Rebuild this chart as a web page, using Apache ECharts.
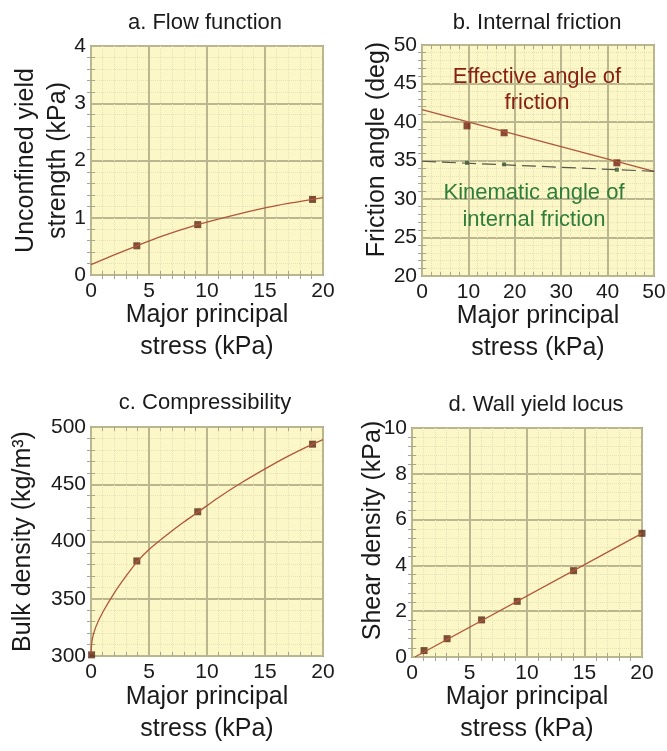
<!DOCTYPE html>
<html>
<head>
<meta charset="utf-8">
<script src="https://cdn.jsdelivr.net/npm/echarts@6.0.0/dist/echarts.min.js"></script>
<style>
  html, body { margin: 0; padding: 0; background: #fff; }
  #chart { width: 667px; height: 751px; }
</style>
</head>
<body>
<div id="chart"></div>
<script>
// a. flow function
const flowX = [3.95, 9.2, 19.1];
const flowY = [0.51, 0.88, 1.32];
const flowCurveX = [0, 2, 3.95, 6, 9.2, 12, 15.2, 17, 19.1, 20];
const flowCurveY = [0.18, 0.35, 0.51, 0.67, 0.88, 1.03, 1.18, 1.25, 1.32, 1.35];

// b. internal friction
const fricX = [9.7, 17.7, 42];
const effY = [39.5, 38.6, 34.7];
const kinY = [34.7, 34.5, 33.8];
const effLineX = [0, 50];
const effLineY = [41.6, 33.6];
const kinLineX = [0, 50];
const kinLineY = [34.9, 33.6];

// c. compressibility
const compX = [0.05, 3.95, 9.2, 19.1];
const compY = [301, 383, 426, 485];
const compCurveX = [0, 0.1, 0.4, 1, 2, 3, 3.95, 5, 6.5, 8, 9.2, 11, 13, 15.2, 17, 19.1, 20];
const compCurveY = [302, 314, 325, 338, 355, 369.5, 382, 393, 405.5, 417, 425.5, 438.5, 451.5, 464.5, 474.5, 485, 489];

// d. wall yield locus
const wallX = [1.05, 3.05, 6.05, 9.15, 14.05, 20];
const wallY = [0.28, 0.8, 1.62, 2.43, 3.77, 5.4];
const wallLineX = [0.25, 20];
const wallLineY = [0, 5.4];

// axis ranges per panel: [xMin, xMax, xStep, yMin, yMax, yStep]
const ranges = [
  [0, 20, 5, 0, 4, 1],
  [0, 50, 10, 20, 50, 5],
  [0, 20, 5, 300, 500, 50],
  [0, 20, 5, 0, 10, 2]
];

const FONT = '"Liberation Sans", Arial, sans-serif';
const pairs = (xs, ys) => xs.map((x, i) => [x, ys[i]]);

function axis(gridIndex, min, max, interval, name, nameGap, isY, shift) {
  return {
    gridIndex: gridIndex,
    type: 'value',
    min: min,
    max: max,
    interval: interval,
    name: name,
    nameLocation: 'middle',
    nameGap: nameGap,
    nameMoveOverlap: false,
    nameTextStyle: { fontFamily: FONT, fontSize: 25, color: '#1a1a1a', lineHeight: 32,
      padding: shift ? [0, 0, 0, shift] : 0 },
    axisLine: { show: false },
    axisTick: { show: false, inside: true },
    minorTick: { show: true, splitNumber: 5, length: 4, lineStyle: { color: '#a8a690', width: 1 } },
    axisLabel: { fontFamily: FONT, fontSize: 21, color: '#1a1a1a', margin: isY ? 5 : 6, showMinLabel: true, showMaxLabel: true },
    splitLine: { show: true, lineStyle: { color: '#bab68f', width: 2 } },
    minorSplitLine: { show: true, lineStyle: { color: '#e6e1b6', width: 1, type: 'dotted' } }
  };
}

// ticks only, on the top and right edges of each frame
function edgeAxis(gridIndex, min, max, interval, position) {
  return {
    gridIndex: gridIndex, type: 'value', position: position,
    min: min, max: max, interval: interval,
    axisLine: { show: false },
    axisTick: { show: false, inside: true },
    minorTick: { show: true, splitNumber: 5, length: 4, lineStyle: { color: '#a8a690', width: 1 } },
    axisLabel: { show: false },
    splitLine: { show: false }
  };
}

function titleAt(text, x, y) {
  return { text: text, left: x, top: y, textAlign: 'center',
    textStyle: { fontFamily: FONT, fontSize: 22, fontWeight: 'normal', color: '#1a1a1a' } };
}

const gridBase = { show: true, backgroundColor: '#fcf7c7', borderColor: '#9e9c86', borderWidth: 2, outerBoundsMode: 'none' };
const lineStyle = { color: '#b0563a', width: 1.3 };
const markStyle = { color: '#5a2612' };
const xName = 'Major principal\nstress (kPa)';

const chart = echarts.init(document.getElementById('chart'));
chart.setOption({
  animation: false,
  backgroundColor: '#ffffff',
  title: [
    titleAt('a. Flow function', 200, 7),
    titleAt('b. Internal friction', 532, 7),
    titleAt('c. Compressibility', 200, 387),
    titleAt('d. Wall yield locus', 531, 389)
  ],
  grid: [
    Object.assign({ left: 91, top: 46, width: 232, height: 229 }, gridBase),
    Object.assign({ left: 422, top: 45, width: 232, height: 231 }, gridBase),
    Object.assign({ left: 91, top: 427, width: 232, height: 229 }, gridBase),
    Object.assign({ left: 412, top: 428, width: 230, height: 229 }, gridBase)
  ],
  xAxis: [
    axis(0, ranges[0][0], ranges[0][1], ranges[0][2], xName, 24, false),
    axis(1, ranges[1][0], ranges[1][1], ranges[1][2], xName, 24, false),
    axis(2, ranges[2][0], ranges[2][1], ranges[2][2], xName, 25, false),
    axis(3, ranges[3][0], ranges[3][1], ranges[3][2], xName, 24, false)
  ].concat(ranges.map((r, i) => edgeAxis(i, r[0], r[1], r[2], 'top'))),
  yAxis: [
    axis(0, ranges[0][3], ranges[0][4], ranges[0][5], 'Unconfined yield\nstrength (kPa)', 17, true),
    axis(1, ranges[1][3], ranges[1][4], ranges[1][5], 'Friction angle (deg)', 29, true, 22),
    axis(2, ranges[2][3], ranges[2][4], ranges[2][5], 'Bulk density (kg/m³)', 52, true),
    axis(3, ranges[3][3], ranges[3][4], ranges[3][5], 'Shear density (kPa)', 23, true, 24)
  ].concat(ranges.map((r, i) => edgeAxis(i, r[3], r[4], r[5], 'right'))),
  graphic: [
    { type: 'text', x: 537, y: 90, z: 100,
      style: { text: 'Effective angle of\nfriction', fill: '#8a2116', font: '22px ' + FONT,
        align: 'center', verticalAlign: 'middle', lineHeight: 26 } },
    { type: 'text', x: 534, y: 206, z: 100,
      style: { text: 'Kinematic angle of\ninternal friction', fill: '#2f7d3c', font: '22px ' + FONT,
        align: 'center', verticalAlign: 'middle', lineHeight: 27 } }
  ],
  series: [
    { type: 'line', xAxisIndex: 0, yAxisIndex: 0, data: pairs(flowCurveX, flowCurveY),
      smooth: 0.3, showSymbol: false, lineStyle: lineStyle },
    { type: 'scatter', xAxisIndex: 0, yAxisIndex: 0, data: pairs(flowX, flowY),
      symbol: 'rect', symbolSize: 7, itemStyle: markStyle },

    { type: 'line', xAxisIndex: 1, yAxisIndex: 1, data: pairs(effLineX, effLineY),
      showSymbol: false, lineStyle: lineStyle },
    { type: 'line', xAxisIndex: 1, yAxisIndex: 1, data: pairs(kinLineX, kinLineY),
      showSymbol: false, lineStyle: { color: '#55574a', width: 1.2, type: [14, 6] } },
    { type: 'scatter', xAxisIndex: 1, yAxisIndex: 1, data: pairs(fricX, effY),
      symbol: 'rect', symbolSize: 7, itemStyle: { color: '#6e1f12' } },
    { type: 'scatter', xAxisIndex: 1, yAxisIndex: 1, data: pairs(fricX, kinY),
      symbol: 'rect', symbolSize: 4, itemStyle: { color: '#2e5a2e' } },

    { type: 'line', xAxisIndex: 2, yAxisIndex: 2, data: pairs(compCurveX, compCurveY),
      smooth: 0.3, showSymbol: false, lineStyle: lineStyle },
    { type: 'scatter', xAxisIndex: 2, yAxisIndex: 2, data: pairs(compX, compY),
      symbol: 'rect', symbolSize: 7, itemStyle: markStyle },

    { type: 'line', xAxisIndex: 3, yAxisIndex: 3, data: pairs(wallLineX, wallLineY),
      showSymbol: false, lineStyle: lineStyle },
    { type: 'scatter', xAxisIndex: 3, yAxisIndex: 3, data: pairs(wallX, wallY),
      symbol: 'rect', symbolSize: 7, itemStyle: markStyle }
  ]
});
</script>
</body>
</html>
